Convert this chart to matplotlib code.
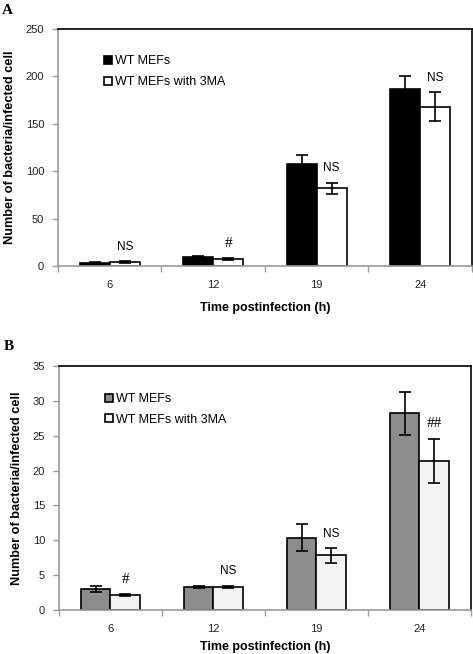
import numpy as np
import matplotlib
matplotlib.use('Agg')
import matplotlib.pyplot as plt

plt.rcParams['font.family'] = ['Liberation Sans', 'DejaVu Sans']

times = ['6', '12', '19', '24']
labels = ['WT MEFs', 'WT MEFs with 3MA']

# panel A
a_wt = [3, 10, 108, 187]
a_wt_err = [1, 1, 9, 13]
a_3ma = [4, 7, 82, 168]
a_3ma_err = [1, 1, 6, 15.5]
a_marks = ['NS', '#', 'NS', 'NS']

# panel B
b_wt = [3.0, 3.3, 10.4, 28.2]
b_wt_err = [0.4, 0.2, 1.9, 3.1]
b_3ma = [2.1, 3.3, 7.85, 21.4]
b_3ma_err = [0.15, 0.2, 1.05, 3.2]
b_marks = ['#', 'NS', 'NS', '##']


def panel(ax, wt, wt_err, ma, ma_err, marks, colors, ymax, ystep, letter, xpad):
    x = np.arange(len(times))
    w = 0.29
    ax.bar(x - w / 2, wt, w, color=colors[0], edgecolor='black', linewidth=1.2, label=labels[0], zorder=2)
    ax.bar(x + w / 2, ma, w, color=colors[1], edgecolor='black', linewidth=1.2, label=labels[1], zorder=2)
    ax.errorbar(x - w / 2, wt, yerr=wt_err, fmt='none', ecolor='black', elinewidth=1.2, capsize=4.3, capthick=1.2, zorder=3)
    ax.errorbar(x + w / 2, ma, yerr=ma_err, fmt='none', ecolor='black', elinewidth=1.2, capsize=4.3, capthick=1.2, zorder=3)
    for i, m in enumerate(marks):
        if '#' in m:
            fam, fs = ['Liberation Serif'], 11
        else:
            fam, fs = ['Liberation Sans'], 8.5
        ax.annotate(m, (x[i] + w / 2, ma[i] + ma_err[i]), xytext=(0, 6), textcoords='offset points',
                    ha='center', va='bottom', fontsize=fs, family=fam)

    ax.set_xlim(-0.5, len(times) - 0.5)
    ax.set_ylim(0, ymax)
    ax.set_yticks(np.arange(0, ymax + 0.1, ystep))
    ax.set_xticks(x)
    ax.set_xticklabels(times)
    ax.set_xticks(np.arange(-0.5, len(times), 1), minor=True)
    ax.tick_params(axis='x', which='major', length=0, pad=10, labelsize=8, labelcolor='#222222')
    ax.tick_params(axis='x', which='minor', length=4, color='#999999', width=1)
    ax.tick_params(axis='y', length=4, color='#999999', width=1, labelsize=8, labelcolor='#222222', pad=6)
    for s in ['left', 'bottom']:
        ax.spines[s].set_color('#999999')
        ax.spines[s].set_linewidth(1.2)
    for s in ['top', 'right']:
        ax.spines[s].set_color('black')
        ax.spines[s].set_linewidth(1.2)
    ax.set_xlabel('Time postinfection (h)', fontsize=9, fontweight='bold', labelpad=xpad)
    ax.set_ylabel('Number of bacteria/infected cell', fontsize=9.2, fontweight='bold', labelpad=7)
    ax.legend(loc='upper left', bbox_to_anchor=(0.1, 0.91), frameon=False, fontsize=9,
              handlelength=0.6, handleheight=0.6, handletextpad=0.25, labelspacing=0.7, borderaxespad=0)
    ax.text(-0.135, 1.08, letter, transform=ax.transAxes, fontsize=11, fontweight='bold',
            family=['Liberation Serif'], ha='left', va='center')


fig = plt.figure(figsize=(4.73, 6.54), dpi=100)
ax1 = fig.add_axes([0.1226, 0.5933, 0.875, 0.3624])
ax2 = fig.add_axes([0.1247, 0.0673, 0.871, 0.373])

panel(ax1, a_wt, a_wt_err, a_3ma, a_3ma_err, a_marks, ['black', 'white'], 250, 50, 'A', 9)
panel(ax2, b_wt, b_wt_err, b_3ma, b_3ma_err, b_marks, ['#8c8c8c', '#f2f2f2'], 35, 5, 'B', 5)

fig.savefig('out.png', dpi=100)
